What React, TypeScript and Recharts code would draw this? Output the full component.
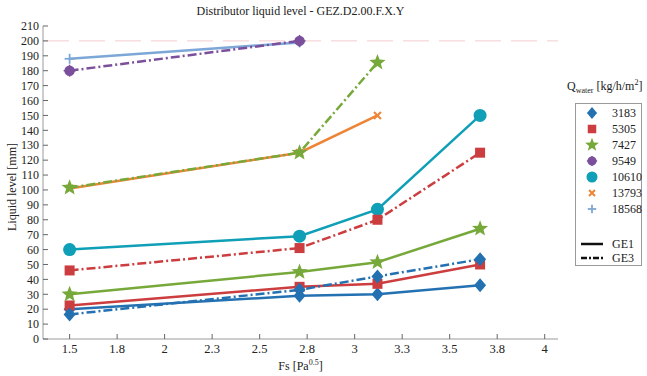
import React from "react";
import { LineChart, Line, XAxis, YAxis, ReferenceLine } from "recharts";

// Fs positions of the measured points
const fsValues = [1.5, 2.71, 3.12, 3.66];

// GE1 (solid)
const ge1Q3183 = [20, 29, 30, 36];
const ge1Q5305 = [22.5, 35, 37, 50];
const ge1Q7427 = [30, 45, 51.5, 74];
const ge1Q10610 = [60, 69, 87, 150];
const ge1Q13793 = [101, 125, 150];
const ge1Q18568 = [188, 199];

// GE3 (dash-dot)
const ge3Q3183 = [16.5, 33, 42, 53.5];
const ge3Q5305 = [46, 61, 80, 125];
const ge3Q7427 = [101.5, 125, 185.5];
const ge3Q9549 = [180, 200];

const xTicks = [1.5, 1.75, 2, 2.25, 2.5, 2.75, 3, 3.25, 3.5, 3.75, 4];
const xTickLabels = ["1.5", "1.8", "2", "2.3", "2.5", "2.8", "3", "3.3", "3.5", "3.8", "4"];
const yTicks = [0, 10, 20, 30, 40, 50, 60, 70, 80, 90, 100, 110, 120, 130, 140, 150, 160, 170, 180, 190, 200, 210];

const legendLabels = ["3183", "5305", "7427", "9549", "10610", "13793", "18568"];

const FONT = "'Liberation Serif', 'Times New Roman', serif";
const DASH_DOT = "9 3 2 3";

type Marker = "diamond" | "square" | "star" | "asterisk" | "circle" | "cross" | "plus";

const COLORS: Record<string, string> = {
  "3183": "#2471b2",
  "5305": "#cc3d3f",
  "7427": "#76a93a",
  "9549": "#7b4f9c",
  "10610": "#0f9fb6",
  "13793": "#ee8436",
  "18568": "#7da7d6",
};

const MARKERS: Record<string, Marker> = {
  "3183": "diamond",
  "5305": "square",
  "7427": "star",
  "9549": "asterisk",
  "10610": "circle",
  "13793": "cross",
  "18568": "plus",
};

function markerShape(kind: Marker, cx: number, cy: number, color: string, scale = 1) {
  const s = scale;
  switch (kind) {
    case "diamond":
      return (
        <polygon
          points={`${cx},${cy - 7 * s} ${cx + 6 * s},${cy} ${cx},${cy + 7 * s} ${cx - 6 * s},${cy}`}
          fill={color}
        />
      );
    case "square":
      return <rect x={cx - 5 * s} y={cy - 5 * s} width={10 * s} height={10 * s} fill={color} />;
    case "star": {
      const pts: string[] = [];
      for (let i = 0; i < 10; i++) {
        const r = (i % 2 === 0 ? 8.5 : 3.6) * s;
        const a = (Math.PI / 5) * i - Math.PI / 2;
        pts.push(`${cx + r * Math.cos(a)},${cy + r * Math.sin(a)}`);
      }
      return <polygon points={pts.join(" ")} fill={color} />;
    }
    case "asterisk":
      return (
        <g stroke={color} strokeWidth={1.5}>
          <circle cx={cx} cy={cy} r={4.5 * s} fill={color} />
          <line x1={cx - 6 * s} y1={cy} x2={cx + 6 * s} y2={cy} />
          <line x1={cx} y1={cy - 6 * s} x2={cx} y2={cy + 6 * s} />
        </g>
      );
    case "circle":
      return <circle cx={cx} cy={cy} r={6.5 * s} fill={color} />;
    case "cross":
      return (
        <g stroke={color} strokeWidth={2}>
          <line x1={cx - 3.5 * s} y1={cy - 3.5 * s} x2={cx + 3.5 * s} y2={cy + 3.5 * s} />
          <line x1={cx - 3.5 * s} y1={cy + 3.5 * s} x2={cx + 3.5 * s} y2={cy - 3.5 * s} />
        </g>
      );
    case "plus":
      return (
        <g stroke={color} strokeWidth={1.8}>
          <line x1={cx - 5 * s} y1={cy} x2={cx + 5 * s} y2={cy} />
          <line x1={cx} y1={cy - 5 * s} x2={cx} y2={cy + 5 * s} />
        </g>
      );
  }
}

function toPoints(values: number[]) {
  return values.map((y, i) => ({ x: fsValues[i], y }));
}

const series = [
  { id: "ge1-3183", q: "3183", values: ge1Q3183, dash: undefined },
  { id: "ge1-5305", q: "5305", values: ge1Q5305, dash: undefined },
  { id: "ge1-7427", q: "7427", values: ge1Q7427, dash: undefined },
  { id: "ge1-10610", q: "10610", values: ge1Q10610, dash: undefined },
  { id: "ge1-13793", q: "13793", values: ge1Q13793, dash: undefined },
  { id: "ge1-18568", q: "18568", values: ge1Q18568, dash: undefined },
  { id: "ge3-3183", q: "3183", values: ge3Q3183, dash: DASH_DOT },
  { id: "ge3-5305", q: "5305", values: ge3Q5305, dash: DASH_DOT },
  { id: "ge3-7427", q: "7427", values: ge3Q7427, dash: DASH_DOT },
  { id: "ge3-9549", q: "9549", values: ge3Q9549, dash: DASH_DOT },
];

const textStyle = { fontFamily: FONT };

function LegendBox() {
  return (
    <div style={{ position: "absolute", left: 0, top: 0, width: 647, height: 376, pointerEvents: "none" }}>
      <div
        style={{
          position: "absolute",
          left: 567,
          top: 78,
          fontSize: 12,
          color: "#222",
          whiteSpace: "nowrap",
        }}
      >
        Q<sub style={{ fontSize: 8 }}>water</sub> [kg/h/m<sup style={{ fontSize: 8 }}>2</sup>]
      </div>
      <svg width={647} height={376} style={{ position: "absolute", left: 0, top: 0 }}>
        <rect x={575.5} y={103.5} width={66} height={162} fill="#fff" stroke="#9a9a9a" strokeWidth={1} />
        {legendLabels.map((q, i) => {
          const y = 113 + i * 16;
          return (
            <g key={q}>
              {markerShape(MARKERS[q], 592, y, COLORS[q], 0.85)}
              <text x={612} y={y + 4} fontSize={12} style={textStyle} fill="#222">
                {q}
              </text>
            </g>
          );
        })}
        <line x1={581} y1={244} x2={603} y2={244} stroke="#111" strokeWidth={2.5} />
        <text x={612} y={248} fontSize={12} style={textStyle} fill="#222">
          GE1
        </text>
        <line x1={581} y1={258} x2={603} y2={258} stroke="#111" strokeWidth={2.5} strokeDasharray="6 2 2 2" />
        <text x={612} y={262} fontSize={12} style={textStyle} fill="#222">
          GE3
        </text>
      </svg>
    </div>
  );
}

export default function App() {
  return (
    <div
      style={{
        position: "absolute",
        left: 0,
        top: 0,
        width: 647,
        height: 376,
        background: "#fff",
        fontFamily: FONT,
      }}
    >
      <div
        style={{
          position: "absolute",
          left: 43,
          width: 515,
          top: 4,
          textAlign: "center",
          fontSize: 12,
          color: "#222",
        }}
      >
        Distributor liquid level - GEZ.D2.00.F.X.Y
      </div>
      <LineChart width={647} height={376} margin={{ top: 26, right: 89, bottom: 0, left: 8 }} style={textStyle}>
        <XAxis
          xAxisId="bottom"
          type="number"
          dataKey="x"
          domain={[1.36, 4.07]}
          allowDataOverflow
          ticks={xTicks}
          tickFormatter={(v: number) => xTickLabels[xTicks.indexOf(v)] ?? String(v)}
          height={37}
          tickSize={-5}
          tickMargin={10}
          stroke="#9a9a9a"
          tickLine={{ stroke: "#666" }}
          tick={{ fill: "#222", fontSize: 12.5, style: textStyle }}
        />
        <XAxis
          xAxisId="top"
          orientation="top"
          type="number"
          domain={[1.36, 4.07]}
          allowDataOverflow
          ticks={xTicks}
          height={0}
          tickSize={-5}
          tick={false}
          stroke="#9a9a9a"
          tickLine={{ stroke: "#666" }}
        />
        <YAxis
          yAxisId="left"
          type="number"
          domain={[0, 210]}
          allowDataOverflow
          ticks={yTicks}
          interval={0}
          width={35}
          tickSize={-5}
          tickMargin={9}
          stroke="#9a9a9a"
          tickLine={{ stroke: "#666" }}
          tick={{ fill: "#222", fontSize: 12, style: textStyle }}
        />
        <YAxis
          yAxisId="right"
          orientation="right"
          type="number"
          domain={[0, 210]}
          allowDataOverflow
          ticks={yTicks}
          interval={0}
          width={0}
          tickSize={-5}
          tick={false}
          stroke="#9a9a9a"
          tickLine={{ stroke: "#666" }}
        />
        <ReferenceLine
          xAxisId="bottom"
          yAxisId="left"
          y={200}
          stroke="#f3ccd0"
          strokeWidth={1}
          strokeDasharray="26 10"
        />
        {series.map((s) => (
          <Line
            key={s.id}
            xAxisId="bottom"
            yAxisId="left"
            data={toPoints(s.values)}
            dataKey="y"
            stroke={COLORS[s.q]}
            strokeWidth={2.5}
            strokeDasharray={s.dash}
            isAnimationActive={false}
            activeDot={false}
            dot={(p: any) => (
              <g key={`${s.id}-${p.index}`}>{markerShape(MARKERS[s.q], p.cx, p.cy, COLORS[s.q])}</g>
            )}
          />
        ))}
      </LineChart>
      <div
        style={{
          position: "absolute",
          left: 43,
          width: 515,
          top: 358,
          textAlign: "center",
          fontSize: 12,
          color: "#222",
        }}
      >
        Fs [Pa<sup style={{ fontSize: 8 }}>0.5</sup>]
      </div>
      <div
        style={{
          position: "absolute",
          left: 12,
          top: 187,
          transform: "translate(-50%, -50%) rotate(-90deg)",
          fontSize: 12,
          color: "#222",
          whiteSpace: "nowrap",
        }}
      >
        Liquid level [mm]
      </div>
      <LegendBox />
    </div>
  );
}
